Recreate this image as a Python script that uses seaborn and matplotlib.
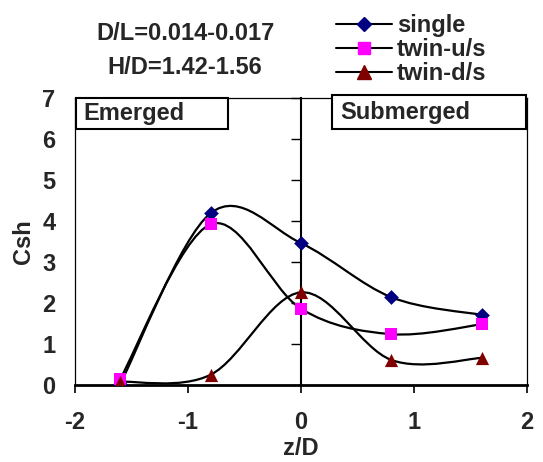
import numpy as np
import pandas as pd
import seaborn as sns
import matplotlib.pyplot as plt
from matplotlib.path import Path
from matplotlib.patches import PathPatch, Rectangle
from matplotlib.lines import Line2D

# Data
z_d = [-1.6, -0.8, 0.0, 0.8, 1.6]
single = [0.02, 4.19, 3.46, 2.14, 1.71]
twin_us = [0.15, 3.92, 1.86, 1.24, 1.48]
twin_ds = [0.08, 0.25, 2.26, 0.61, 0.66]
series_names = ['single', 'twin-u/s', 'twin-d/s']
x_ticks = [-2, -1, 0, 1, 2]
y_ticks = [0, 1, 2, 3, 4, 5, 6, 7]

df = pd.DataFrame({
    'z/D': z_d * 3,
    'Csh': single + twin_us + twin_ds,
    'series': [n for n in series_names for _ in z_d],
})

sns.set_theme(style='white')
plt.rcParams['font.family'] = ['Liberation Sans', 'DejaVu Sans']
plt.rcParams['font.weight'] = 'bold'
plt.rcParams['axes.unicode_minus'] = False

colors = {'single': '#000080', 'twin-u/s': '#FF00FF', 'twin-d/s': '#800000'}
markers = {'single': 'D', 'twin-u/s': 's', 'twin-d/s': '^'}
msize = {'single': 7.5, 'twin-u/s': 8.5, 'twin-d/s': 9.5}

fig = plt.figure(figsize=(5.43, 4.62), dpi=100)
ax = fig.add_axes([75 / 543, 1 - 385 / 462, 452 / 543, 287 / 462])


def smooth_path(xs, ys):
    # Excel-style smoothed line: cubic Bezier with Catmull-Rom control points
    pts = np.column_stack([xs, ys])
    verts = [pts[0]]
    codes = [Path.MOVETO]
    n = len(pts)
    for i in range(n - 1):
        p0 = pts[max(i - 1, 0)]
        p1 = pts[i]
        p2 = pts[i + 1]
        p3 = pts[min(i + 2, n - 1)]
        c1 = p1 + (p2 - p0) / 6
        c2 = p2 - (p3 - p1) / 6
        verts += [c1, c2, p2]
        codes += [Path.CURVE4] * 3
    return Path(verts, codes)


for name in series_names:
    sub = df[df['series'] == name]
    ax.add_patch(PathPatch(smooth_path(sub['z/D'].values, sub['Csh'].values),
                           facecolor='none', edgecolor='black', lw=1.6, zorder=2))

for name in series_names:
    sub = df[df['series'] == name]
    sns.scatterplot(data=sub, x='z/D', y='Csh', ax=ax, marker=markers[name],
                    color=colors[name], s=msize[name] ** 2, edgecolor=colors[name],
                    linewidth=0, zorder=3, legend=False)

ax.set_xlim(-2, 2)
ax.set_ylim(0, 7)
ax.set_xticks(x_ticks)
ax.set_yticks(y_ticks)
ax.tick_params(axis='x', direction='out', length=6, width=1.2, pad=13, labelsize=17,
               bottom=True, color='black')
ax.tick_params(axis='y', length=0, pad=14, labelsize=17)
for lab in ax.get_xticklabels() + ax.get_yticklabels():
    lab.set_fontweight('bold')

for side in ['left', 'top', 'right']:
    ax.spines[side].set_linewidth(0.9)
    ax.spines[side].set_color('black')
ax.spines['bottom'].set_linewidth(2)
ax.spines['bottom'].set_color('black')

# vertical axis through z/D = 0 with ticks on its left side
sec = ax.secondary_yaxis(0.5)
sec.set_yticks(y_ticks)
sec.yaxis.set_ticks_position('left')
sec.tick_params(axis='y', which='major', left=True, right=False, direction='out',
                length=7, width=1, color='black', labelleft=False, labelright=False)
for side in ['left', 'right']:
    sec.spines[side].set_linewidth(1.5)
    sec.spines[side].set_color('black')

ax.set_xlabel('z/D', fontsize=17, fontweight='bold', labelpad=2)
ax.set_ylabel('Csh', fontsize=17, fontweight='bold', labelpad=5)

# Emerged / Submerged boxes
ax.add_patch(Rectangle((0.002, 0.892), 0.336, 0.108, transform=ax.transAxes,
                       facecolor='white', edgecolor='black', lw=1.5, zorder=5, clip_on=False))
ax.add_patch(Rectangle((0.569, 0.892), 0.429, 0.118, transform=ax.transAxes,
                       facecolor='white', edgecolor='black', lw=1.5, zorder=5, clip_on=False))
ax.text(0.018, 0.946, 'Emerged', transform=ax.transAxes, ha='left', va='center',
        fontsize=17, fontweight='bold', zorder=6)
ax.text(0.586, 0.951, 'Submerged', transform=ax.transAxes, ha='left', va='center',
        fontsize=17, fontweight='bold', zorder=6)

fig.text(185 / 543, 1 - 33 / 462, 'D/L=0.014-0.017', ha='center', va='center',
         fontsize=17, fontweight='bold')
fig.text(185 / 543, 1 - 68 / 462, 'H/D=1.42-1.56', ha='center', va='center',
         fontsize=17, fontweight='bold')

handles = [Line2D([0], [0], color='black', lw=1.5, marker=markers[n], markersize=msize[n],
                  markerfacecolor=colors[n], markeredgecolor=colors[n]) for n in series_names]
fig.legend(handles, series_names, loc='upper left', bbox_to_anchor=(324 / 543, 1 - 2 / 462),
           frameon=False, prop={'weight': 'bold', 'size': 17},
           handlelength=2.4, handletextpad=0.2, labelspacing=0.05, borderpad=0)

fig.savefig('out.png', dpi=100)
